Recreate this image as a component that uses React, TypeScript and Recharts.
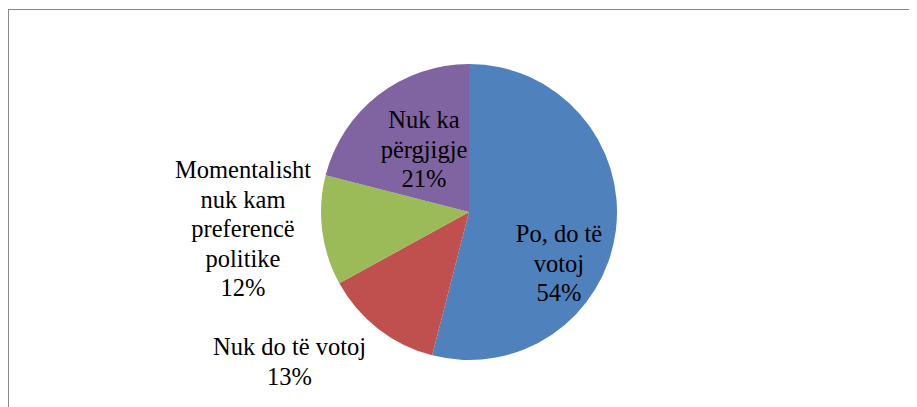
import React from 'react';
import { PieChart, Pie, Cell } from 'recharts';

const categories = ['Po, do të votoj', 'Nuk do të votoj', 'Momentalisht nuk kam preferencë politike', 'Nuk ka përgjigje'];
const values = [54, 13, 12, 21];
const percentLabels = ['54%', '13%', '12%', '21%'];
const labelWraps = [
  ['Po, do të', 'votoj'],
  ['Nuk do të votoj'],
  ['Momentalisht', 'nuk kam', 'preferencë', 'politike'],
  ['Nuk ka', 'përgjigje'],
];
const colors = ['#4F81BD', '#C0504D', '#9BBB59', '#8064A2'];
// label block placement relative to the pie centre: [dx, first-baseline dy]
const labelOffsets: [number, number][] = [
  [90, 30],
  [-179.5, 143],
  [-226, -34],
  [-45, -84],
];

const data = categories.map((name, i) => ({ name, value: values[i] }));

const LINE_H = 29.5;

const renderLabel = (props: any) => {
  const { cx, cy, index } = props;
  const [dx, dy] = labelOffsets[index];
  const x = cx + dx;
  const lines = [...labelWraps[index], percentLabels[index]];
  return (
    <g key={`lbl-${index}`}>
      {lines.map((l, i) => (
        <text
          key={i}
          x={x}
          y={cy + dy + i * LINE_H}
          textAnchor="middle"
          fontFamily="Liberation Serif"
          fontSize={24.5}
        >
          {l}
        </text>
      ))}
    </g>
  );
};

export default function App() {
  return (
    <div
      style={{
        position: 'relative',
        left: -1,
        top: 1,
        width: 930,
        height: 420,
        borderTop: '1px solid #858585',
        borderLeft: '2px solid #8a8a8a',
        background: '#fff',
      }}
    >
      <PieChart width={928} height={419} margin={{ top: 0, right: 0, bottom: 0, left: 0 }}>
        <Pie
          data={data}
          dataKey="value"
          nameKey="name"
          cx={460}
          cy={202}
          outerRadius={148}
          startAngle={90}
          endAngle={-270}
          stroke="none"
          labelLine={false}
          label={renderLabel}
          isAnimationActive={false}
        >
          {data.map((d, i) => (
            <Cell key={d.name} fill={colors[i]} stroke="none" />
          ))}
        </Pie>
      </PieChart>
    </div>
  );
}
